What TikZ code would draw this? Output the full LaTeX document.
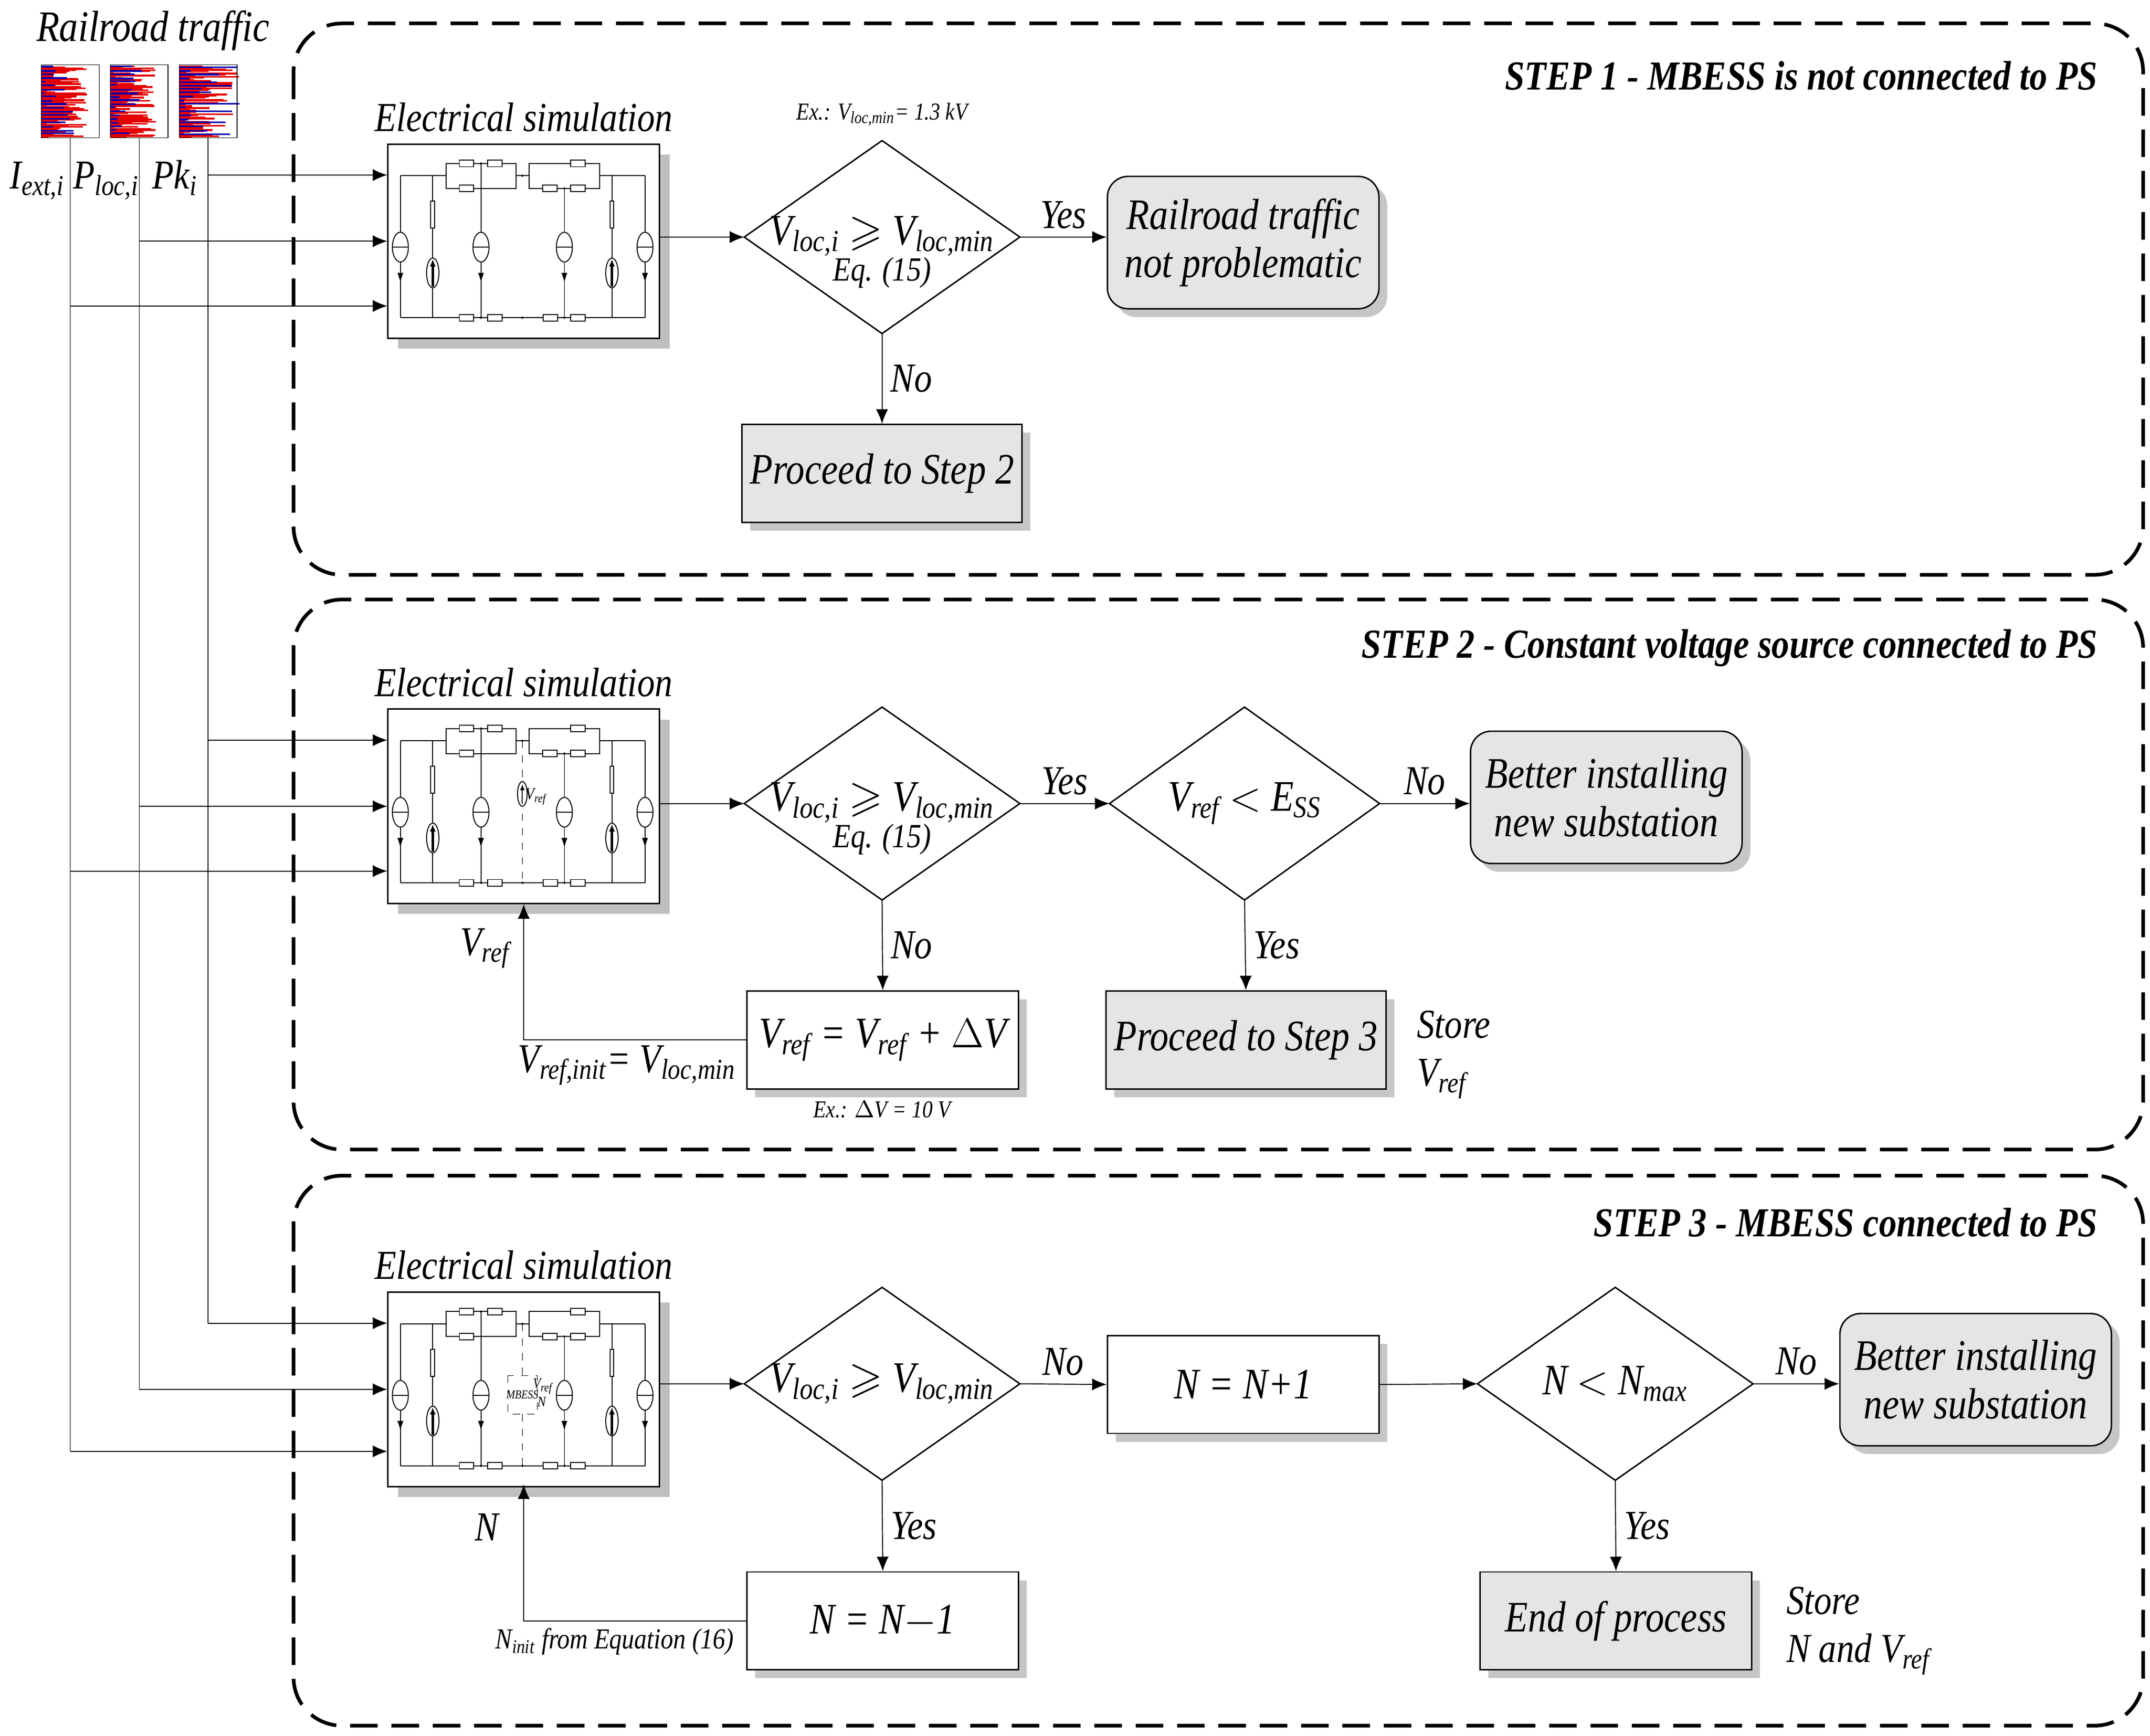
\documentclass[tikz,border=0pt]{standalone}
\usepackage{amssymb}
\usepackage{fontspec}
\setmainfont{Liberation Serif}[FakeStretch=0.86]
\usetikzlibrary{shadows,arrows.meta,shapes.geometric}
\begin{document}
\newcommand\sbs[1]{\textsubscript{#1}}
\newcommand\hres[2]{\draw[fill=white] (#1,#2-2.4) rectangle ++(10.5,4.8);}
\newcommand\vres[2]{\draw[fill=white] (#1-1.4,#2) rectangle ++(2.8,19.5);}
\newcommand\srcd[1]{\draw[fill=white] (#1,75.3) ellipse [x radius=5.8,y radius=10.8]; \draw (#1-5.8,75.3)--(#1+5.8,75.3); \draw[-{Latex[length=4pt,width=2.5pt]}] (#1,95)--(#1,101);}
\newcommand\srcu[1]{\draw[fill=white] (#1,94) ellipse [x radius=4.5,y radius=10.8]; \draw[line width=1pt,-{Latex[length=3pt,width=2.5pt]}] (#1,104)--(#1,84);}
\newcommand\circuit{%
 \draw (9.5,23.5)--(42.6,23.5) (93.4,23.5)--(103,23.5) (154,23.5)--(187,23.5);
 \draw (9.5,126.5)--(187,126.5);
 \draw (42.6,14.6) rectangle (93.4,32.7) (103,14.6) rectangle (154,32.7);
 \draw (9.5,23.5)--(9.5,126.5) (33,23.5)--(33,126.5) (68,14.6)--(68,126.5) (128.5,32.7)--(128.5,126.5) (163,23.5)--(163,126.5) (187,23.5)--(187,126.5);
 \hres{52.3}{14.6}\hres{72.8}{14.6}\hres{52.3}{32.7}
 \hres{133}{14.6}\hres{112.8}{32.7}\hres{133}{32.7}
 \hres{52.3}{126.5}\hres{72.8}{126.5}\hres{113}{126.5}\hres{133.2}{126.5}
 \vres{33}{42}\vres{163}{42}
 \srcd{9.5}\srcd{68}\srcd{128.5}\srcd{187}\srcu{33}\srcu{163}
 \fill (68,14.6) circle (0.8) (68,126.5) circle (0.8) (128.5,32.7) circle (0.8) (128.5,126.5) circle (0.8) (98,23.5) circle (0.8) (98,126.5) circle (0.8);
}
\newcommand\dia[4]{%
 \draw[fill=white,line width=0.6pt] (#2-#4,#3)--(#2,#3-70)--(#2+#4,#3)--(#2,#3+70)--cycle;
 \coordinate (#1w) at (#2-#4,#3); \coordinate (#1e) at (#2+#4,#3);
 \coordinate (#1s) at (#2,#3+70); \coordinate (#1n) at (#2,#3-70);}
\tikzset{
 lbl/.style={font=\fontsize{17}{20}\selectfont\itshape},
 box/.style={draw,line width=0.6pt,minimum width=197*0.2mm,minimum height=71*0.2mm,align=center,font=\fontsize{18}{20}\selectfont\itshape},
 gbox/.style={box,fill=gray!20,drop shadow={opacity=0.45,shadow xshift=1.2mm,shadow yshift=-1.2mm}},
 rbox/.style={gbox,rounded corners=3mm,minimum height=96*0.2mm},
 wbox/.style={box,drop shadow={opacity=0.45,shadow xshift=1.2mm,shadow yshift=-1.2mm},fill=white},
 dtx/.style={align=center,font=\fontsize{18}{17}\selectfont\itshape},
 cbox/.style={draw,fill=white,line width=0.6pt,minimum width=197*0.2mm,minimum height=141*0.2mm,anchor=north west,drop shadow={opacity=0.5,shadow xshift=1.5mm,shadow yshift=-1.5mm}},
 frame/.style={dash pattern=on 4mm off 2mm,line width=1.5pt,rounded corners=7mm},
 ar/.style={-{Latex[length=6pt,width=5pt]},line width=0.4pt},
 ttl/.style={font=\fontsize{17}{19}\selectfont\bfseries\itshape,anchor=east},
 sm/.style={font=\fontsize{10}{11}\selectfont\itshape},
}
\begin{tikzpicture}[x=0.2mm,y=-0.2mm]
\useasboundingbox (0,0) rectangle (1560,1259.2);
\draw[frame] (213,17) rectangle (1555,417);
\draw[frame] (213,435) rectangle (1555,834);
\draw[frame] (213,853) rectangle (1555,1252);
\node[ttl] at (1528,55) {STEP 1 - MBESS is not connected to PS};
\node[ttl] at (1528,470) {STEP 2 - Constant voltage source connected to PS};
\node[ttl] at (1528,887) {STEP 3 - MBESS connected to PS};
\node[lbl,font=\fontsize{18}{20}\selectfont\itshape] (rt) at (111,22) {Railroad traffic};
\pgfmathsetseed{7}
\foreach \x in {30,80,130}{
 \foreach \i in {0,...,68}{\draw[red!90!black,line width=0.7pt] (\x,48+\i*0.76) -- ++({rnd*(\x==130?42:32)+2},0);}
 \foreach \i in {0,...,18}{\draw[blue!70!black,line width=0.7pt] (\x,48+\i*2.7+rnd) -- ++({rnd*(\x==130?42:22)+2},0);}
 \draw[line width=0.3pt] (\x,47) rectangle ++(42,53);
}
\node[lbl,anchor=base] (l1) at (27,137) {I\sbs{ext,i}};
\node[lbl,anchor=base] (l2) at (77,137) {P\sbs{loc,i}};
\node[lbl,anchor=base] (l3) at (127,137) {Pk\sbs{i}};
\coordinate (t1) at (51,100); \coordinate (t2) at (101,100); \coordinate (t3) at (151,100);
\draw[line width=0.3pt] (t1)--(51,1053) (t2)--(101,1008) (t3)--(151,960);
\foreach \y/\n in {104/c1,514/c2,937/c3}{
 \node[cbox] (\n) at (281,\y) {};
 \node[lbl] at (380,\y-19) {Electrical simulation};
}
\begin{scope}[shift={(281,104)}]\circuit\end{scope}
\begin{scope}[shift={(281,514)}]\circuit
 \draw[dashed,line width=0.3pt] (98,23.5)--(98,126.5);
 \draw[fill=white] (98,62) ellipse [x radius=3.5,y radius=9];
 \draw[-{Latex[length=2.5pt,width=2pt]}] (98,69)--(98,55);
 \node[font=\fontsize{7}{7}\selectfont\itshape] at (108,64) {V\sbs{ref}};
\end{scope}
\begin{scope}[shift={(281,937)}]\circuit
 \draw[dashed,line width=0.3pt] (98,23.5)--(98,61) (98,89)--(98,126.5);
 \draw[dashed,fill=white,line width=0.3pt] (87.4,61) rectangle (109,89);
 \node[font=\fontsize{5}{5}\selectfont\itshape] at (98,75) {MBESS};
 \node[font=\fontsize{6}{6}\selectfont\itshape] at (113,69) {V\sbs{ref}};
 \node[font=\fontsize{6}{6}\selectfont\itshape] at (112,80) {N};
\end{scope}
\foreach \y/\x in {127/151,175/101,222/51,537/151,585/101,632/51,960/151,1008/101,1053/51}{
 \draw[ar] (\x,\y) -- (281,\y);}
% STEP 1
\node[sm] at (640,83) {Ex.: V\sbs{loc,min}= 1.3 kV};
\dia{d1}{640}{172}{100}
\node[dtx] at (640,183) {V\sbs{loc,i} $\geqslant$ V\sbs{loc,min}\\[-2pt]{\fontsize{14}{14}\selectfont Eq. (15)}};
\node[rbox,anchor=west] (r1) at (803,176) {Railroad traffic\\not problematic};
\node[gbox] (p2) at (640,343.5) {Proceed to Step 2};
\draw[ar] (478,172) -- (d1w);
\draw[ar] (d1e) -- (803,172) node[lbl,midway,above] {Yes};
\draw[ar] (d1s) -- (p2.north) node[lbl,pos=0.5,right] {No};
% STEP 2
\dia{d2}{640}{583}{100}
\node[dtx] at (640,594) {V\sbs{loc,i} $\geqslant$ V\sbs{loc,min}\\[-2pt]{\fontsize{14}{14}\selectfont Eq. (15)}};
\dia{e2}{903}{583}{98}
\node[dtx] at (903,583) {V\sbs{ref} $<$ E\sbs{SS}};
\node[rbox] (b2) at (1165.5,578.5) {Better installing\\new substation};
\node[gbox] (p3) at (904,754.5) {Proceed to Step 3};
\node[wbox] (v2) at (640.5,754.5) {V\sbs{ref} = V\sbs{ref} + $\Delta$V};
\node[sm] at (640,805) {Ex.: $\Delta$V = 10 V};
\draw[ar] (478,583) -- (d2w);
\draw[ar] (d2e) -- (e2w) node[lbl,midway,above] {Yes};
\draw[ar] (e2e) -- (b2.west |- e2e) node[lbl,midway,above] {No};
\draw[ar] (e2s) -- (p3.north) node[lbl,midway,right] {Yes};
\draw[ar] (d2s) -- (v2.north) node[lbl,midway,right] {No};
\draw[ar] (v2.west) -- (380,754.5) -- (380,656);
\node[lbl] at (352,688) {V\sbs{ref}};
\node[lbl] at (455,773) {V\sbs{ref,init}= V\sbs{loc,min}};
\node[lbl,align=left,anchor=north west] at (1022,727) {Store\\V\sbs{ref}};
% STEP 3
\dia{d3}{640}{1004}{100}
\node[dtx] at (640,1004) {V\sbs{loc,i} $\geqslant$ V\sbs{loc,min}};
\node[wbox] (n1) at (902,1004.5) {N = N+1};
\dia{e3}{1172}{1004}{100}
\node[dtx] at (1172,1004) {N $<$ N\sbs{max}};
\node[rbox] (b3) at (1433.5,1001) {Better installing\\new substation};
\node[gbox] (ep) at (1172.5,1176) {End of process};
\node[wbox] (n2) at (640.5,1176) {N = N$-$1};
\draw[ar] (478,1004) -- (d3w);
\draw[ar] (d3e) -- (n1.west) node[lbl,midway,above] {No};
\draw[ar] (n1.east) -- (e3w);
\draw[ar] (e3e) -- (b3.west |- e3e) node[lbl,midway,above] {No};
\draw[ar] (e3s) -- (ep.north) node[lbl,midway,right] {Yes};
\draw[ar] (d3s) -- (n2.north) node[lbl,midway,right] {Yes};
\draw[ar] (n2.west) -- (380,1176) -- (380,1077);
\node[lbl] at (353,1108) {N};
\node[font=\fontsize{12}{13}\selectfont\itshape] at (446,1191) {N\sbs{init} from Equation (16)};
\node[lbl,align=left,anchor=north west] at (1290,1145) {Store\\N and V\sbs{ref}};
\end{tikzpicture}
\end{document}
